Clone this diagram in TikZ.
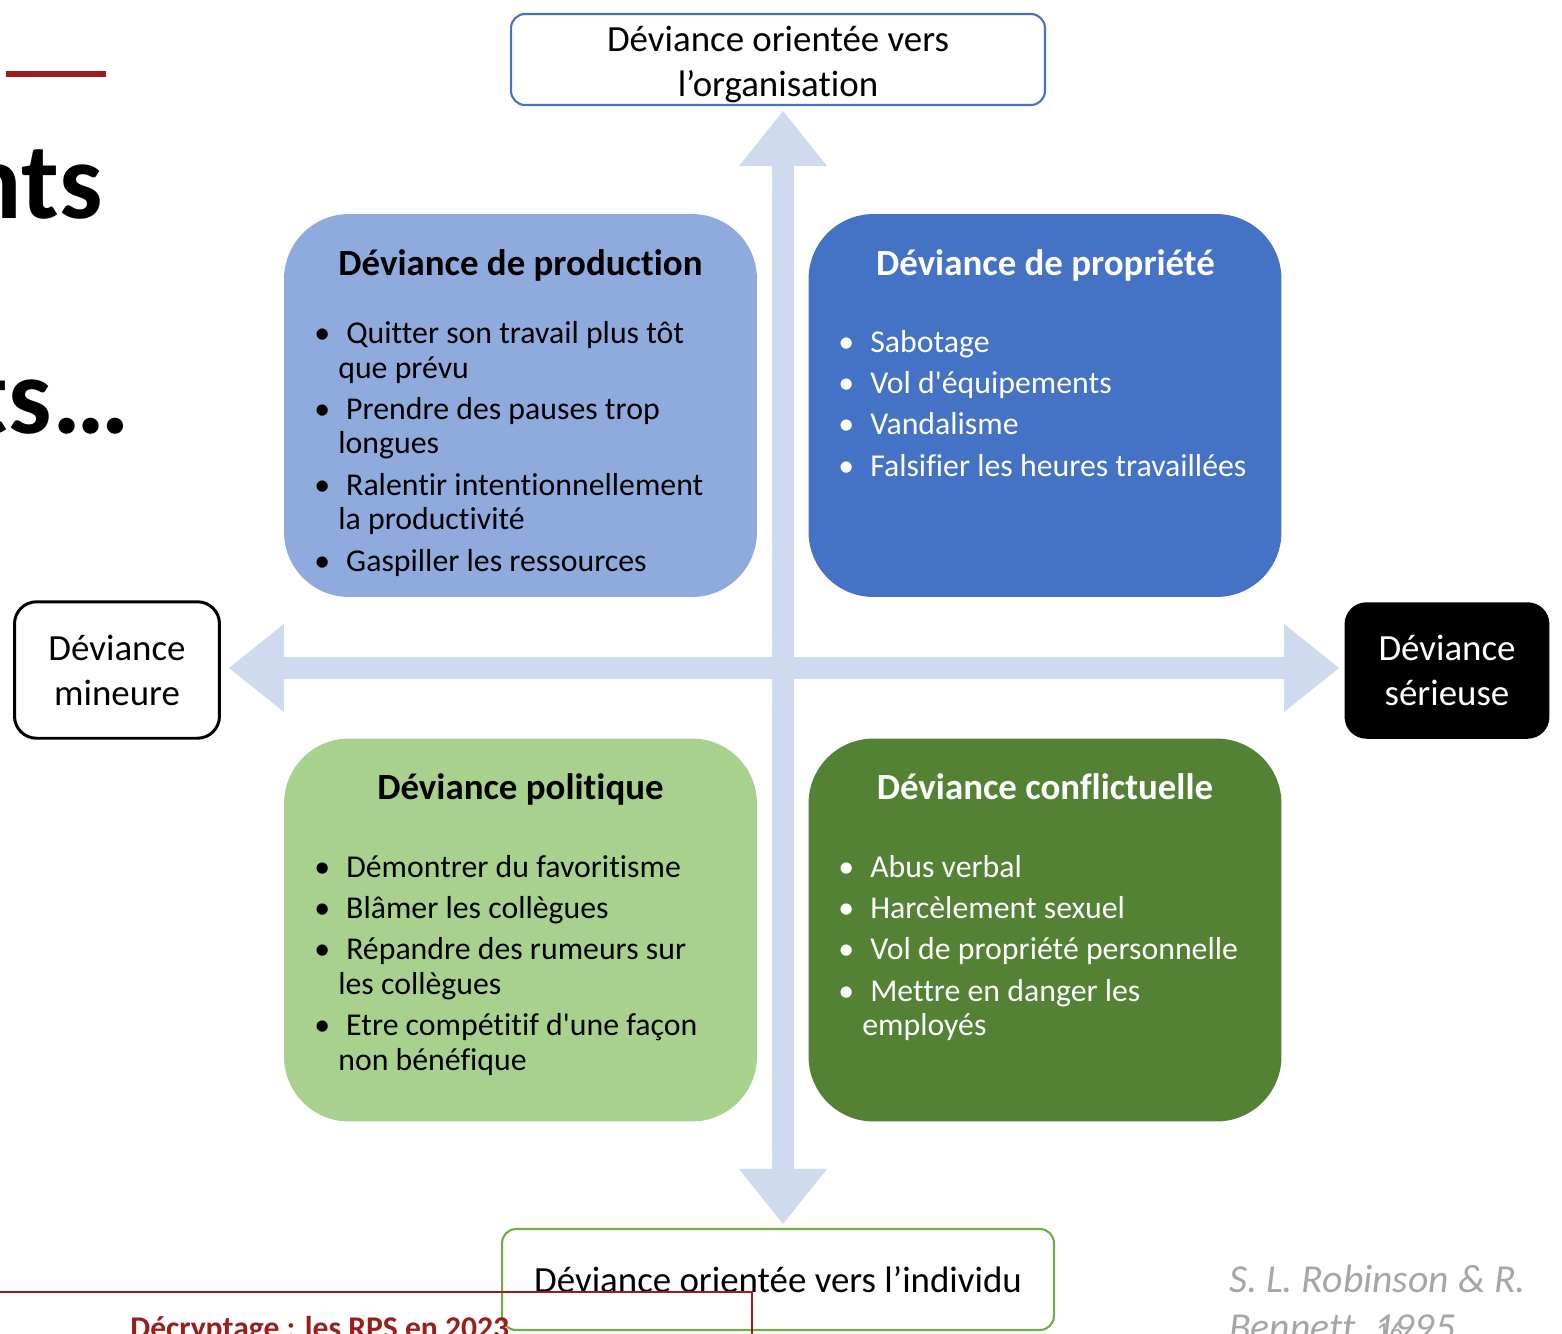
\documentclass[tikz,border=0pt]{standalone}
\usepackage{fontspec}
\setmainfont{Carlito}[Ligatures={TeXOff,NoCommon}]
\usetikzlibrary{arrows.meta, positioning}

\definecolor{prodblue}{HTML}{8FAADC}
\definecolor{propblue}{HTML}{4472C4}
\definecolor{polgreen}{HTML}{A9D18E}
\definecolor{confgreen}{HTML}{548235}
\definecolor{orggreen}{HTML}{70AD47}
\definecolor{axisblue}{RGB}{207,218,238}
\definecolor{slidered}{RGB}{155,30,28}
\definecolor{citegray}{RGB}{166,166,166}

\newcommand\itemgap{3.8pt}
\newcommand\bul{\hspace*{-9.1pt}\makebox[0pt]{\textbullet}\hspace*{13.6pt}}

\begin{document}
\begin{tikzpicture}[x=0.02cm, y=-0.02cm,
    quad/.style={rounded corners=1.3cm, minimum width=9.46cm, minimum height=7.66cm, inner sep=0},
    titletxt/.style={anchor=base, font=\fontsize{21}{25}\selectfont\bfseries},
    listtxt/.style={anchor=north west, align=left, inner sep=0, font=\fontsize{18.1}{19.7}\selectfont},
    tag/.style={draw, rounded corners=0.28cm, line width=1.2pt, align=center, inner sep=0, font=\fontsize{21}{25.6}\selectfont},
    side/.style={rounded corners=0.44cm, line width=1.7pt, minimum width=4.1cm, minimum height=2.73cm, align=center, inner sep=0, font=\fontsize{21}{25.6}\selectfont},
    bigarrow/.style={axisblue, line width=0.44cm, >={Triangle[length=1.1cm, width=1.76cm, line width=0pt]}, <->},
    citetxt/.style={anchor=base west, inner sep=0, text=citegray, font=\fontsize{22.6}{27}\selectfont\itshape}]

    \useasboundingbox (0,0) rectangle (1562,1333);
    \clip (0,0) rectangle (1562,1333);

    \coordinate (hub) at (783,668);

    \node[tag, draw=propblue, minimum width=10.68cm, minimum height=1.82cm] (org) at (778,59.5) {\rule{0pt}{20.5pt}Déviance orientée vers\\l’organisation};
    \node[tag, draw=orggreen, minimum width=11.04cm, minimum height=2.02cm] (ind) at (778,1279.5) {Déviance orientée vers l’individu};
    \node[side, draw=black, fill=white] (minor) at (117,670) {Déviance\\mineure};
    \node[side, fill=black, text=white] (serious) at (1447,670.5) {Déviance\\sérieuse};

    \draw[bigarrow, shorten <=0.1cm, shorten >=0.08cm] (org.south -| hub) -- (ind.north -| hub);
    \draw[bigarrow, shorten <=0.16cm, shorten >=0.08cm] (minor.east |- hub) -- (serious.west |- hub);

    \node[quad, fill=prodblue] (prod) at (520.5,405.5) {};
    \node[quad, fill=propblue] (prop) at (1045,405.5) {};
    \node[quad, fill=polgreen] (pol) at (520.5,930) {};
    \node[quad, fill=confgreen] (conf) at (1045,930) {};

    \node[titletxt] (prodtitle) at (520.5,275) {Déviance de production};
    \node[titletxt, white] (proptitle) at (1045.5,275) {Déviance de propriété};
    \node[titletxt] (poltitle) at (520.5,799) {Déviance politique};
    \node[titletxt, white] (conftitle) at (1045,799) {Déviance conflictuelle};

    \node[listtxt] (prodlist) at (338,318.8) {\strut\bul Quitter son travail plus tôt\\que prévu\\[\itemgap]
        \bul Prendre des pauses trop\\longues\\[\itemgap]
        \bul Ralentir intentionnellement\\la productivité\\[\itemgap]
        \bul Gaspiller les ressources};
    \node[listtxt, white] (proplist) at (862,327.8) {\strut\bul Sabotage\\[\itemgap]
        \bul Vol d'équipements\\[\itemgap]
        \bul Vandalisme\\[\itemgap]
        \bul Falsifier les heures travaillées};
    \node[listtxt] (pollist) at (338,852.8) {\strut\bul Démontrer du favoritisme\\[\itemgap]
        \bul Blâmer les collègues\\[\itemgap]
        \bul Répandre des rumeurs sur\\les collègues\\[\itemgap]
        \bul Etre compétitif d'une façon\\non bénéfique};
    \node[listtxt, white] (conflist) at (862,852.8) {\strut\bul Abus verbal\\[\itemgap]
        \bul Harcèlement sexuel\\[\itemgap]
        \bul Vol de propriété personnelle\\[\itemgap]
        \bul Mettre en danger les\\employés};

    \draw[slidered, line width=0.12cm] (6,74) -- (106,74);
    \draw[slidered, line width=0.04cm] (0,1292) -- (752,1292) -- (752,1340);
    \node[anchor=base east, inner sep=0, font=\fontsize{62}{70}\selectfont\bfseries] (headone) at (103,218) {nts};
    \node[anchor=base east, inner sep=0, font=\fontsize{62}{70}\selectfont\bfseries] (headtwo) at (130,433) {ts…};
    \node[anchor=base west, inner sep=0, text=slidered, font=\fontsize{18}{22}\selectfont\bfseries] (footer) at (130,1338) {Décryptage : les RPS en 2023};
    \node[citetxt] (citeone) at (1229,1292) {S. L. Robinson \& R.};
    \node[citetxt] (citetwo) at (1229,1340) {Bennett, 1995};
    \node[citetxt, font=\fontsize{15}{18}\selectfont\upshape] (slidenum) at (1376,1340) {16};
\end{tikzpicture}
\end{document}
